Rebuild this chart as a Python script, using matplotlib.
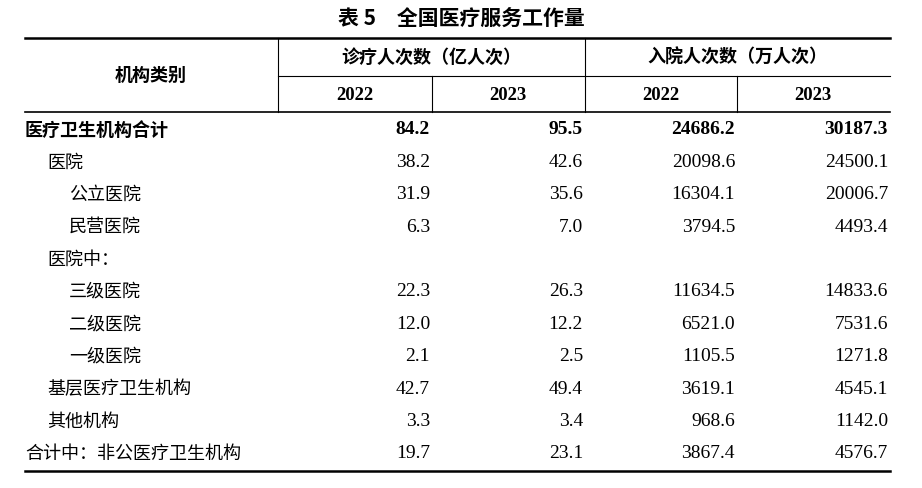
import matplotlib
matplotlib.use('Agg')
import matplotlib.pyplot as plt

title = '表 5　全国医疗服务工作量'
row_labels = ['医疗卫生机构合计', '医院', '公立医院', '民营医院', '医院中：',
              '三级医院', '二级医院', '一级医院', '基层医疗卫生机构', '其他机构',
              '合计中：非公医疗卫生机构']
row_levels = [0, 1, 2, 2, 1, 2, 2, 2, 1, 1, 0]
visits_2022 = ['84.2', '38.2', '31.9', '6.3', '', '22.3', '12.0', '2.1', '42.7', '3.3', '19.7']
visits_2023 = ['95.5', '42.6', '35.6', '7.0', '', '26.3', '12.2', '2.5', '49.4', '3.4', '23.1']
inpat_2022 = ['24686.2', '20098.6', '16304.1', '3794.5', '', '11634.5', '6521.0', '1105.5', '3619.1', '968.6', '3867.4']
inpat_2023 = ['30187.3', '24500.1', '20006.7', '4493.4', '', '14833.6', '7531.6', '1271.8', '4545.1', '1142.0', '4576.7']

CJK = 'Noto Sans CJK SC'
NUM = 'Liberation Serif'

fig = plt.figure(figsize=(9.22, 4.88), dpi=100)
ax = fig.add_axes([0, 0, 1, 1])
ax.set_xlim(0, 922)
ax.set_ylim(488, 0)
ax.axis('off')

L, R = 25, 890
ax.text(461, 18, title, ha='center', va='center', fontsize=15, fontweight='bold', family=CJK)
ax.plot([L, R], [38, 38], color='black', lw=1.8)
ax.plot([278, R], [76, 76], color='black', lw=0.8)
ax.plot([L, R], [112, 112], color='black', lw=1.2)
ax.plot([L, R], [471, 471], color='black', lw=1.8)
ax.plot([278, 278], [38, 112], color='black', lw=0.8)
ax.plot([585, 585], [38, 112], color='black', lw=0.8)
for x in (432, 737):
    ax.plot([x, x], [76, 112], color='black', lw=0.8)

ax.text(151, 75, '机构类别', ha='center', va='center', fontsize=13, fontweight='bold', family=CJK)
ax.text(431, 57, '诊疗人次数（亿人次）', ha='center', va='center', fontsize=13, fontweight='bold', family=CJK)
ax.text(737, 57, '入院人次数（万人次）', ha='center', va='center', fontsize=13, fontweight='bold', family=CJK)
for xc, yr in zip((355, 508, 661, 813), ('2022', '2023', '2022', '2023')):
    ax.text(xc, 95, yr, ha='center', va='center', fontsize=13.5, fontweight='bold', family=NUM)

indent = {0: 25, 1: 47, 2: 69}
cols = [(430, visits_2022), (583, visits_2023), (735, inpat_2022), (888, inpat_2023)]
for i, lab in enumerate(row_labels):
    y = 130 + i * 32.4
    bold = 'bold' if i == 0 else 'normal'
    ax.text(indent[row_levels[i]], y, lab, ha='left', va='center', fontsize=13,
            fontweight=bold, family=CJK)
    for xr, vals in cols:
        ax.text(xr, y, vals[i], ha='right', va='center', fontsize=14, fontweight=bold, family=NUM)

fig.savefig('out.png', dpi=100)
